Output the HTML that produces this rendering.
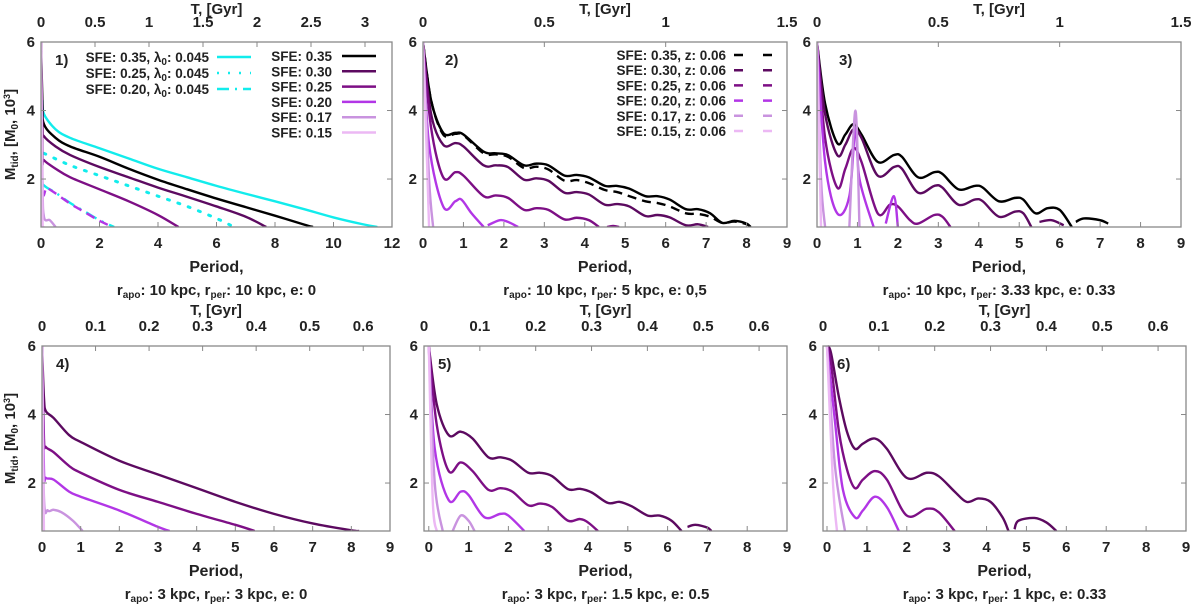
<!DOCTYPE html>
<html><head><meta charset="utf-8"><style>
body{margin:0;background:#fff;}
svg{display:block;font-family:"Liberation Sans",sans-serif;font-weight:bold;fill:#222;}
</style></head><body>
<svg id="chart" width="1200" height="605" viewBox="0 0 1200 605"></svg>
<script>
const sfeLabels=["0.35","0.30","0.25","0.20","0.17","0.15"];
const colors={"0.35":"#000000","0.30":"#5c0a60","0.25":"#7d0f85","0.20":"#b236e6","0.17":"#c993df","0.15":"#ecb8f4",cyan:"#12ecec"};
// panel 1 series [period, mass]
const p1_cyan_035=[[0.05,4.3],[0.1,3.9],[0.5,3.45],[1,3.2],[2,2.9],[3,2.6],[4,2.3],[5,2.05],[6,1.8],[7,1.57],[8,1.35],[9,1.12],[10,0.88],[11,0.68],[11.5,0.6]];
const p1_cyan_025=[[0.1,2.75],[1,2.4],[2,2.1],[3,1.8],[4,1.5],[5,1.2],[6,0.85],[6.6,0.6]];
const p1_cyan_020=[[0.05,1.85],[0.2,1.75],[0.5,1.6],[1,1.3],[1.5,1.05],[2,0.8],[2.5,0.6]];
const p1_035=[[0,6],[0.05,4.2],[0.1,3.6],[0.5,3.2],[1,2.95],[2,2.65],[3,2.3],[4,1.98],[5,1.7],[6,1.43],[7,1.18],[8,0.93],[9,0.67],[9.3,0.6]];
const p1_030=[[0,6],[0.05,3.5],[0.1,3.25],[0.5,2.95],[1,2.7],[2,2.35],[3,2.05],[4,1.75],[5,1.48],[6,1.2],[7,0.9],[7.7,0.6]];
const p1_025=[[0,6],[0.05,2.7],[0.1,2.55],[0.5,2.3],[1,2.05],[2,1.7],[3,1.35],[4,0.95],[4.7,0.6]];
const p1_020=[[0,6],[0.05,1.85],[0.2,1.75],[0.5,1.58],[1,1.28],[1.5,1.03],[2,0.78],[2.45,0.6]];
const p1_017=[[0,6],[0.05,2],[0.1,0.9],[0.3,0.8],[0.5,0.6]];
const p1_015=[[0,6],[0.05,1],[0.08,0.6]];
// panel 2
const p2_035=[[0,6],[0.2,4.3],[0.5,3.35],[0.8,3.35],[1.0,3.3],[1.5,2.8],[1.8,2.75],[2.1,2.7],[2.5,2.4],[2.8,2.45],[3.1,2.4],[3.5,2.1],[3.8,2.12],[4.1,2.05],[4.5,1.8],[4.8,1.8],[5.1,1.72],[5.5,1.5],[5.8,1.5],[6.1,1.4],[6.5,1.12],[6.8,1.12],[7.1,1.0],[7.4,0.72],[7.7,0.78],[8.0,0.7],[8.1,0.6]];
const p2_035z=[[0,6],[0.2,4.3],[0.5,3.3],[0.8,3.32],[1,3.28],[1.5,2.75],[1.8,2.72],[2.1,2.65],[2.5,2.32],[2.8,2.36],[3.1,2.28],[3.5,1.95],[3.8,1.97],[4.1,1.88],[4.5,1.68],[4.8,1.62],[5.1,1.5],[5.5,1.35],[5.8,1.3],[6.1,1.2],[6.5,1.0],[6.8,0.98],[7.1,0.9],[7.4,0.72],[7.7,0.76],[8.0,0.68],[8.1,0.6]];
const p2_030=[[0,6],[0.2,3.9],[0.5,3.0],[0.8,3.05],[1.0,2.95],[1.5,2.4],[1.8,2.4],[2.1,2.35],[2.5,1.98],[2.8,2.02],[3.1,1.95],[3.5,1.6],[3.8,1.62],[4.1,1.55],[4.5,1.25],[4.8,1.27],[5.1,1.2],[5.5,0.92],[5.8,0.95],[6.1,0.88],[6.5,0.65],[6.8,0.68],[7.05,0.6]];
const p2_025=[[0,6],[0.2,3.5],[0.5,2.05],[0.8,2.2],[1.0,2.1],[1.5,1.5],[1.8,1.52],[2.1,1.45],[2.5,1.1],[2.8,1.15],[3.1,1.1],[3.5,0.82],[3.8,0.87],[4.1,0.8],[4.35,0.6],null,[4.55,0.6],[4.7,0.63],[4.85,0.6]];
const p2_020=[[0,6],[0.15,3],[0.5,1.2],[0.8,1.35],[0.95,1.4],[1.2,1.0],[1.5,0.6],null,[1.6,0.65],[1.9,0.8],[2.1,0.75],[2.35,0.6]];
const p2_017=[[0,6],[0.15,2],[0.25,0.6]];
const p2_015=[[0,6],[0.1,2.5],[0.15,0.6]];
// panel 3
const p3_035=[[0,6],[0.2,4.2],[0.5,3.05],[0.7,3.3],[0.9,3.6],[1.1,3.3],[1.5,2.5],[1.9,2.7],[2.1,2.65],[2.5,2.05],[2.9,2.2],[3.1,2.15],[3.5,1.7],[3.9,1.8],[4.1,1.75],[4.5,1.35],[4.9,1.45],[5.1,1.4],[5.4,1.0],[5.7,1.15],[6.0,1.1],[6.3,0.6],null,[6.4,0.75],[6.6,0.85],[7.0,0.8],[7.2,0.7]];
const p3_030=[[0,6],[0.2,3.9],[0.5,2.7],[0.7,3.0],[0.9,3.45],[1.1,3.2],[1.5,2.1],[1.9,2.35],[2.1,2.3],[2.5,1.6],[2.9,1.8],[3.1,1.75],[3.5,1.25],[3.9,1.4],[4.1,1.35],[4.5,0.9],[4.9,1.05],[5.1,1.0],[5.3,0.6],null,[5.5,0.75],[5.8,0.8],[6.1,0.65]];
const p3_025=[[0,6],[0.2,3.2],[0.5,1.75],[0.7,2.3],[0.9,2.9],[1.1,2.5],[1.5,1.0],[1.8,1.25],[2.0,1.2],[2.3,0.8],[2.5,0.7],[2.9,0.95],[3.1,0.9],[3.3,0.6]];
const p3_020=[[0,6],[0.2,2.5],[0.5,1.0],[0.8,1.5],[0.95,3.5],[1.05,2.0],[1.4,0.6],null,[1.7,0.7],[1.9,1.5],[2.0,0.6]];
const p3_017=[[0,6],[0.1,2],[0.2,0.6],null,[0.8,0.6],[0.95,4.0],[1.05,0.6]];
const p3_015=[[0,6],[0.1,0.6]];
// panel 4
const p4_030=[[0,6],[0.05,4.5],[0.1,4.1],[0.3,3.9],[0.7,3.4],[1,3.2],[2,2.65],[3,2.25],[4,1.85],[5,1.45],[6,1.1],[7,0.82],[8,0.62],[8.2,0.6]];
const p4_025=[[0,6],[0.05,3.3],[0.1,3.05],[0.3,2.9],[0.7,2.5],[1,2.3],[2,1.8],[3,1.45],[4,1.1],[5,0.78],[5.5,0.6]];
const p4_020=[[0,6],[0.05,2.4],[0.1,2.15],[0.3,2.1],[0.7,1.75],[1,1.6],[2,1.2],[3,0.72],[3.3,0.6]];
const p4_017=[[0,6],[0.05,1.6],[0.15,1.2],[0.3,1.22],[0.5,1.15],[0.8,0.9],[1.05,0.6]];
const p4_015=[[0,6],[0.05,0.6]];
// panel 5
const p5_030=[[0,6],[0.2,4.3],[0.5,3.4],[0.8,3.5],[1.1,3.3],[1.5,2.75],[1.8,2.75],[2.1,2.65],[2.5,2.3],[2.8,2.3],[3.1,2.2],[3.5,1.82],[3.8,1.83],[4.1,1.72],[4.5,1.42],[4.8,1.45],[5.1,1.32],[5.5,1.05],[5.8,1.05],[6.1,0.9],[6.35,0.6],null,[6.5,0.72],[6.7,0.78],[7.0,0.7],[7.1,0.6]];
const p5_025=[[0,6],[0.2,3.7],[0.5,2.35],[0.8,2.6],[1.1,2.35],[1.5,1.8],[1.8,1.85],[2.1,1.75],[2.5,1.35],[2.8,1.4],[3.1,1.3],[3.5,0.9],[3.8,0.95],[4.0,0.85],[4.25,0.6]];
const p5_020=[[0,6],[0.15,3],[0.5,1.5],[0.8,1.75],[1.0,1.65],[1.4,1.0],[1.8,1.1],[2.0,1.05],[2.4,0.6]];
const p5_017=[[0,6],[0.15,2],[0.35,0.6],null,[0.6,0.6],[0.8,1.05],[1.0,0.9],[1.15,0.6]];
const p5_015=[[0,6],[0.1,1.5],[0.2,0.6]];
// panel 6
const p6_030=[[0,6],[0.1,5.8],[0.3,4.5],[0.5,3.5],[0.7,3.0],[0.9,3.15],[1.2,3.3],[1.5,3.0],[2.0,2.15],[2.5,2.3],[2.8,2.2],[3.2,1.75],[3.5,1.45],[3.8,1.55],[4.1,1.45],[4.4,1.0],[4.55,0.6],null,[4.7,0.65],[4.8,0.9],[5.2,0.98],[5.5,0.85],[5.75,0.6]];
const p6_025=[[0,6],[0.1,5.5],[0.3,3.5],[0.5,2.4],[0.7,1.85],[0.9,2.1],[1.2,2.35],[1.5,2.1],[2.0,1.05],[2.5,1.25],[2.8,1.15],[3.2,0.6]];
const p6_020=[[0,6],[0.2,3.8],[0.4,1.8],[0.7,1.0],[0.9,1.2],[1.2,1.6],[1.5,1.3],[1.8,0.6]];
const p6_017=[[0,6],[0.2,2.5],[0.45,0.6]];
const p6_015=[[0,6],[0.15,2],[0.25,0.6]];
const yTicks=[2,4,6];
const xTicks12=[0,2,4,6,8,10,12];
const xTicks9=[0,1,2,3,4,5,6,7,8,9];
const tTicksA=[0,0.5,1,1.5,2,2.5,3];
const tTicksB=[0,0.5,1,1.5];
const tTicksC=[0,0.1,0.2,0.3,0.4,0.5,0.6];

const NS="http://www.w3.org/2000/svg";
const svg=document.getElementById('chart');
function mk(tag,attrs,parent){const e=document.createElementNS(NS,tag);for(const k in attrs)e.setAttribute(k,attrs[k]);(parent||svg).appendChild(e);return e;}
function txt(x,y,s,parent,size,anchor){const t=mk('text',{x:x,y:y,'font-size':size||14,'text-anchor':anchor||'middle'},parent);t.innerHTML=s;return t;}

const panels=[
 {id:1,L:41,R:392,T:42,B:227,xmin:0,xmax:12,xt:xTicks12,tmax:3.25,tt:tTicksA,ylabel:true,tOff:28,bOff:0,
  sub:'r<tspan font-size="10" dy="3">apo</tspan><tspan dy="-3">: 10 kpc, r</tspan><tspan font-size="10" dy="3">per</tspan><tspan dy="-3">: 10 kpc, e: 0</tspan>',
  series:[[p1_cyan_035,'cyan',''],[p1_cyan_025,'cyan','dot'],[p1_cyan_020,'cyan','dashdot'],[p1_035,'0.35',''],[p1_030,'0.30',''],[p1_025,'0.25',''],[p1_020,'0.20','dash'],[p1_017,'0.17',''],[p1_015,'0.15','']]},
 {id:2,L:423,R:787,T:42,B:227,xmin:0,xmax:9,xt:xTicks9,tmax:1.5,tt:tTicksB,tOff:28,bOff:0,
  sub:'r<tspan font-size="10" dy="3">apo</tspan><tspan dy="-3">: 10 kpc, r</tspan><tspan font-size="10" dy="3">per</tspan><tspan dy="-3">: 5 kpc, e: 0,5</tspan>',
  series:[[p2_035z,'0.35','dash'],[p2_035,'0.35',''],[p2_030,'0.30',''],[p2_025,'0.25',''],[p2_020,'0.20',''],[p2_017,'0.17',''],[p2_015,'0.15','']]},
 {id:3,L:817,R:1181,T:42,B:227,xmin:0,xmax:9,xt:xTicks9,tmax:1.5,tt:tTicksB,tOff:28,bOff:0,
  sub:'r<tspan font-size="10" dy="3">apo</tspan><tspan dy="-3">: 10 kpc, r</tspan><tspan font-size="10" dy="3">per</tspan><tspan dy="-3">: 3.33 kpc, e: 0.33</tspan>',
  series:[[p3_035,'0.35',''],[p3_030,'0.30',''],[p3_025,'0.25',''],[p3_020,'0.20',''],[p3_017,'0.17',''],[p3_015,'0.15','']]},
 {id:4,L:42,R:390,T:346,B:531,xmin:0,xmax:9,xt:xTicks9,tmax:0.65,tt:tTicksC,ylabel:true,tOff:31,bOff:0,
  sub:'r<tspan font-size="10" dy="3">apo</tspan><tspan dy="-3">: 3 kpc, r</tspan><tspan font-size="10" dy="3">per</tspan><tspan dy="-3">: 3 kpc, e: 0</tspan>',
  series:[[p4_030,'0.30',''],[p4_025,'0.25',''],[p4_020,'0.20',''],[p4_017,'0.17',''],[p4_015,'0.15','']]},
 {id:5,L:424,R:787,T:346,B:531,xmin:-0.12,xmax:9,xt:xTicks9,tmax:0.65,tt:tTicksC,tOff:31,bOff:0,
  sub:'r<tspan font-size="10" dy="3">apo</tspan><tspan dy="-3">: 3 kpc, r</tspan><tspan font-size="10" dy="3">per</tspan><tspan dy="-3">: 1.5 kpc, e: 0.5</tspan>',
  series:[[p5_030,'0.30',''],[p5_025,'0.25',''],[p5_020,'0.20',''],[p5_017,'0.17',''],[p5_015,'0.15','']]},
 {id:6,L:823,R:1186,T:346,B:531,xmin:-0.1,xmax:9,xt:xTicks9,tmax:0.65,tt:tTicksC,tOff:31,bOff:0,
  sub:'r<tspan font-size="10" dy="3">apo</tspan><tspan dy="-3">: 3 kpc, r</tspan><tspan font-size="10" dy="3">per</tspan><tspan dy="-3">: 1 kpc, e: 0.33</tspan>',
  series:[[p6_030,'0.30',''],[p6_025,'0.25',''],[p6_020,'0.20',''],[p6_017,'0.17',''],[p6_015,'0.15','']]}
];
const YMIN=0.6,YMAX=6;
const dashes={'':'', dash:'9 6', dot:'2 9', dashdot:'12 6 2 6'};

function smoothPath(pts){
  let d='';
  for(let i=0;i<pts.length;i++){
    const p=pts[i];
    if(i===0){d+='M'+p[0]+','+p[1];continue;}
    const p0=pts[i-2]||pts[i-1], p1=pts[i-1], p3=pts[i+1]||p;
    const c1=[p1[0]+(p[0]-p0[0])/6,p1[1]+(p[1]-p0[1])/6];
    const c2=[p[0]-(p3[0]-p1[0])/6,p[1]-(p3[1]-p1[1])/6];
    d+='C'+c1.join(',')+' '+c2.join(',')+' '+p.join(',');
  }
  return d;
}

panels.forEach(P=>{
  const g=mk('g',{});
  
  
  const sx=v=>P.L+(v-P.xmin)/(P.xmax-P.xmin)*(P.R-P.L);
  const sy=v=>P.B-(v-YMIN)/(YMAX-YMIN)*(P.B-P.T);
  const st=v=>P.L+v/P.tmax*(P.R-P.L);
  const clip=mk('clipPath',{id:'c'+P.id},g);
  mk('rect',{x:P.L,y:P.T-2,width:P.R-P.L,height:P.B-P.T+2},clip);
  const sg=mk('g',{'clip-path':'url(#c'+P.id+')'},g);
  P.series.forEach((s,si)=>{
    const segs=[[]];
    s[0].forEach(pt=>{if(pt===null)segs.push([]);else segs[segs.length-1].push([sx(pt[0]),sy(pt[1])]);});
    segs.forEach(seg=>{
      if(seg.length<2)return;
      const path=mk('path',{d:smoothPath(seg),fill:'none',stroke:colors[s[1]],'stroke-width':s[2]==='dot'?3:2.4,'stroke-dasharray':dashes[s[2]],'stroke-linecap':s[2]==='dot'?'round':'butt','stroke-linejoin':'round'},sg);
      
      
    });
  });
  const fr=mk('rect',{x:P.L,y:P.T,width:P.R-P.L,height:P.B-P.T,fill:'none',stroke:'#888','stroke-width':1.3},g);
  
  
  P.xt.forEach(v=>{
    const x=sx(v);
    mk('line',{x1:x,x2:x,y1:P.B,y2:P.B-5,stroke:'#888'},g);
    const t=txt(x,P.B+21,String(v),g,15);
    
    
  });
  P.tt.forEach(v=>{
    const x=st(v);
    mk('line',{x1:x,x2:x,y1:P.T,y2:P.T+5,stroke:'#888'},g);
    const t=txt(x,P.T-15,String(v),g,15);
    
    
  });
  yTicks.forEach(v=>{
    const y=sy(v);
    mk('line',{x1:P.L,x2:P.L+5,y1:y,y2:y,stroke:'#888'},g);
    mk('line',{x1:P.R,x2:P.R-5,y1:y,y2:y,stroke:'#888'},g);
    const t=txt(P.L-6,y+5,String(v),g,15,'end');
    
    
  });
  const tt=txt((P.L+P.R)/2,P.T-P.tOff,'T,  [Gyr]',g,15);
  
  
  const xt=txt((P.L+P.R)/2,P.B+45+P.bOff,'Period,',g,16);
  
  
  const sb=txt((P.L+P.R)/2,P.B+68+P.bOff,P.sub,g,15);
  
  
  const pl=txt(P.L+(P.id===2||P.id===3?22:14),P.T+23,P.id+')',g,15,'start');
  
  
  if(P.ylabel){
    const yl=txt(0,0,'M<tspan font-size="10" dy="3">tid</tspan><tspan dy="-3">, [M</tspan><tspan font-size="10" dy="3">0</tspan><tspan dy="-3">, 10</tspan><tspan font-size="9" dy="-5">3</tspan><tspan dy="5">]</tspan>',g,15);
    yl.setAttribute('transform','translate(15,'+((P.T+P.B)/2)+') rotate(-90)');
    
    
  }
});

const leg1=mk('g',{});


const leg1Left=[['SFE: 0.35, λ<tspan font-size="10" dy="3">0</tspan><tspan dy="-3">: 0.045</tspan>','cyan',''],['SFE: 0.25, λ<tspan font-size="10" dy="3">0</tspan><tspan dy="-3">: 0.045</tspan>','cyan','dot'],['SFE: 0.20, λ<tspan font-size="10" dy="3">0</tspan><tspan dy="-3">: 0.045</tspan>','cyan','dashdot']];
leg1Left.forEach((e,i)=>{
  const y=57+i*16;
  const t=txt(209,y+5,e[0],leg1,13.5,'end');
  
  
  mk('line',{x1:217,x2:251,y1:y,y2:y,stroke:colors.cyan,'stroke-width':2.5,'stroke-dasharray':dashes[e[2]]},leg1);
});
sfeLabels.forEach((s,i)=>{
  const y=56+i*15.3;
  const t=txt(332,y+5,'SFE: '+s,leg1,13.5,'end');
  
  
  mk('line',{x1:342,x2:376,y1:y,y2:y,stroke:colors[s],'stroke-width':2.5},leg1);
});
const leg2=mk('g',{});


sfeLabels.forEach((s,i)=>{
  const y=55+i*15.2;
  const t=txt(726,y+5,'SFE: '+s+', z: 0.06',leg2,13.5,'end');
  
  
  mk('line',{x1:734,x2:772,y1:y,y2:y,stroke:colors[s],'stroke-width':2.5,'stroke-dasharray':'9 20'},leg2);
});
</script>
</body></html>
